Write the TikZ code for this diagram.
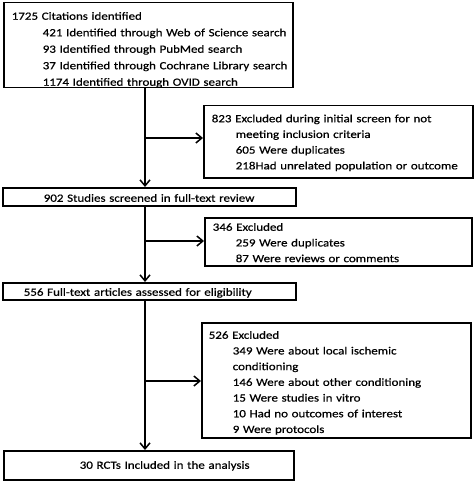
\documentclass[tikz,border=0pt]{standalone}
\usepackage{fontspec}
\setmainfont{Carlito}[FakeStretch=1.18,FakeBold=0.6]
\usetikzlibrary{arrows.meta}
\newcommand\pad[1]{\hspace*{#1pt}}

\begin{document}
\begin{tikzpicture}[x=1pt,y=-1pt,
  flowbox/.style={draw,line width=1.5pt,anchor=north west,inner sep=0pt,align=left,
    font=\fontsize{11}{15.7}\selectfont},
  arr/.style={line width=1.5pt,-{Straight Barb[length=6pt,width=10pt]}}]
\useasboundingbox (0,0) rectangle (473,481);

% main column
\node[flowbox,text width=289pt,text height=17pt,text depth=68pt,
  font=\fontsize{11}{16.5}\selectfont] (cit) at (3,2)
  {\pad{8}1725 Citations identified\\
   \pad{39}421 Identified through Web of Science search\\
   \pad{39}93 Identified through PubMed search\\
   \pad{39}37 Identified through Cochrane Library search\\
   \pad{39}1174 Identified through OVID search};
\node[flowbox,text width=293pt,text height=14pt,text depth=4pt] (scr) at (2,187)
  {\pad{41}902 Studies screened in full-text review};
\node[flowbox,text width=293pt,text height=13pt,text depth=4pt] (elig) at (2,282)
  {\pad{21}556 Full-text articles assessed for eligibility};
\node[flowbox,text width=290pt,text height=18pt,text depth=11pt] (incl) at (3,450)
  {\pad{76}30 RCTs Included in the analysis};

% exclusion boxes
\node[flowbox,text width=269pt,text height=16.5pt,text depth=55.5pt] (exa) at (203,105)
  {\pad{8}823 Excluded during initial screen for not\\
   \pad{32}meeting inclusion criteria\\
   \pad{32}605 Were duplicates\\
   \pad{32}218Had unrelated population or outcome};
\node[flowbox,text width=267pt,text height=13pt,text depth=35pt] (exb) at (204,217)
  {\pad{8}346 Excluded\\
   \pad{31}259 Were duplicates\\
   \pad{31}87 Were reviews or comments};
\node[flowbox,text width=269pt,text height=16pt,text depth=99pt] (exc) at (201,322)
  {\pad{7}526 Excluded\\
   \pad{31}349 Were about local ischemic\\
   \pad{31}conditioning\\
   \pad{31}146 Were about other conditioning\\
   \pad{31}15 Were studies in vitro\\
   \pad{31}10 Had no outcomes of interest\\
   \pad{31}9 Were protocols};

% connectors
\coordinate (ja) at (145,138);
\coordinate (jb) at (145,241);
\coordinate (jc) at (145,381);
\draw[arr] (cit.south -| ja) -- (scr.north -| ja);
\draw[arr] (ja) -- (ja -| exa.west);
\draw[arr] (scr.south -| jb) -- (elig.north -| jb);
\draw[arr] (jb) -- (jb -| exb.west);
\draw[arr] (elig.south -| jc) -- (incl.north -| jc);
\draw[arr] (jc) -- (jc -| exc.west);
\end{tikzpicture}
\end{document}
